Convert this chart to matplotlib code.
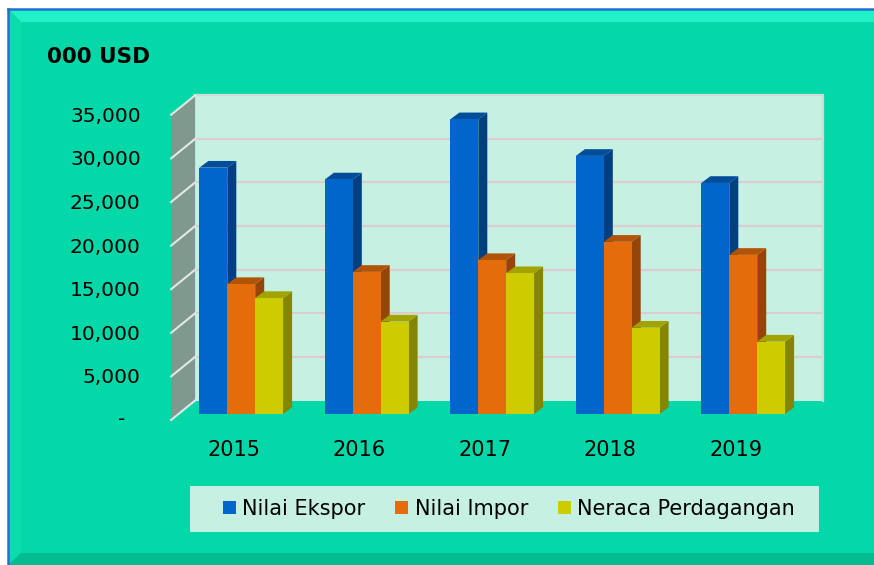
import numpy as np
import matplotlib.pyplot as plt
from matplotlib.patches import Polygon, Rectangle, Patch
from matplotlib.transforms import offset_copy

# Data (000 USD)
years = ["2015", "2016", "2017", "2018", "2019"]
series_names = ["Nilai Ekspor", "Nilai Impor", "Neraca Perdagangan"]
ekspor = [28250, 26900, 33800, 29600, 26500]
impor = [14900, 16300, 17650, 19750, 18250]
neraca = [13300, 10600, 16150, 9900, 8300]
y_ticks = [0, 5000, 10000, 15000, 20000, 25000, 30000, 35000]
y_tick_labels = ["-", "5,000", "10,000", "15,000", "20,000", "25,000", "30,000", "35,000"]
unit_label = "000 USD"

# Colours: front, side and top face of each series
front_colors = ["#0066CC", "#E46C0A", "#CCCC00"]
side_colors = ["#003F80", "#944507", "#858500"]
top_colors = ["#004D99", "#B25408", "#A3A300"]
bg_color = "#05D8A8"
wall_color = "#C6F0E2"
side_wall_color = "#7F998E"
grid_color = "#D9CDCD"

W, H = 874, 565
FS = 14.5

fig = plt.figure(figsize=(W / 100, H / 100), dpi=100, facecolor="white")


def fpx(x, y):
    # pixel position (top-left origin) -> figure fraction
    return x / W, 1 - y / H


# Chart area background with a simple bevel
def add_poly(points, color, z):
    fig.add_artist(Polygon([fpx(*p) for p in points], closed=True, transform=fig.transFigure,
                           facecolor=color, edgecolor="none", zorder=z))


add_poly([(8, 9), (W + 5, 9), (W + 5, H + 5), (8, H + 5)], bg_color, -10)
add_poly([(8, 9), (W + 5, 9), (W + 5, 22), (21, 22)], "#22F0C6", -9)
add_poly([(8, 9), (21, 22), (21, 553), (8, H)], "#0ADCAC", -9)
add_poly([(8, H), (21, 553), (W + 5, 553), (W + 5, H)], "#04BC90", -9)
fig.add_artist(plt.Line2D([8 / W, 8 / W], [0, 1 - 9 / H], color="#1F70D0", lw=1.8,
                          transform=fig.transFigure, zorder=-8))
fig.add_artist(plt.Line2D([8 / W, 1], [1 - 9 / H, 1 - 9 / H], color="#1F70D0", lw=1.8,
                          transform=fig.transFigure, zorder=-8))

# Axes in the plane of the bar fronts
ax_left, ax_right, ax_bottom, ax_top = 178.5, 806.0, 414.0, 108.8
ax = fig.add_axes([ax_left / W, 1 - ax_bottom / H, (ax_right - ax_left) / W, (ax_bottom - ax_top) / H])
ax.set_xlim(-0.5, len(years) - 0.5)
ax.set_ylim(0, 35000)
ax.axis("off")

sx = (ax_right - ax_left) / len(years)  # px per category
sy = (ax_bottom - ax_top) / 35000  # px per value


def shift(dx, dy):
    # pixel offset (down positive) -> data offset
    return dx / sx, -dy / sy


bdx, bdy = shift(16.6, -13.5)  # back wall plane
fdx, fdy = shift(-7.4, 6.0)  # front edge of floor / side wall
ddx, ddy = shift(9.0, -6.7)  # bar depth

x = np.arange(len(years))
xmin, xmax = -0.5, len(years) - 0.5
ymax = y_ticks[-1]

# Back wall
ax.fill([xmin + bdx, xmax + bdx, xmax + bdx, xmin + bdx],
        [bdy, bdy, ymax + bdy, ymax + bdy], color=wall_color, lw=0, zorder=0, clip_on=False)
for v in y_ticks[1:-1]:
    ax.plot([xmin + bdx, xmax + bdx], [v + bdy, v + bdy], color=grid_color, lw=1.6, zorder=0.5, clip_on=False)
ax.plot([xmin + bdx, xmax + bdx, xmax + bdx], [ymax + bdy, ymax + bdy, bdy],
        color="#D3DAD6", lw=1.6, zorder=0.5, clip_on=False)

# Side wall
ax.fill([xmin + fdx, xmin + fdx, xmin + bdx, xmin + bdx],
        [fdy, ymax + fdy, ymax + bdy, bdy], color=side_wall_color, lw=0, zorder=0.6, clip_on=False)
for v in y_ticks:
    ax.plot([xmin + fdx, xmin + bdx], [v + fdy, v + bdy], color="#E2E8E5", lw=1.5, zorder=0.7, clip_on=False)

# Bars
bw = 27.9 / sx
all_values = [ekspor, impor, neraca]
for j, vals in enumerate(all_values):
    xs = x + (j - 1) * bw
    for xc, v in zip(xs, vals):
        xl, xr = xc - bw / 2, xc + bw / 2
        ax.fill([xr, xr + ddx, xr + ddx, xr], [0, ddy, v + ddy, v],
                color=side_colors[j], lw=0, zorder=2 + 2 * j, clip_on=False)
        ax.fill([xl, xr, xr + ddx, xl + ddx], [v, v, v + ddy, v + ddy],
                color=top_colors[j], lw=0, zorder=2 + 2 * j, clip_on=False)
    ax.bar(xs, vals, width=bw, color=front_colors[j], lw=0, zorder=3 + 2 * j, clip_on=False)

# Value axis labels
lab_tr = offset_copy(ax.transData, fig=fig, x=-37.8, y=-1.5 - 6.0, units="dots")
for v, lab in zip(y_ticks, y_tick_labels):
    if lab == "-":
        tr0 = offset_copy(ax.transData, fig=fig, x=-56.5, y=-6.0, units="dots")
        ax.text(xmin, v, lab, transform=tr0, ha="center", va="center", fontsize=FS, color="black")
    else:
        ax.text(xmin, v, lab, transform=lab_tr, ha="right", va="center", fontsize=FS, color="black")

# Category labels
cat_tr = offset_copy(ax.transData, fig=fig, x=-7.5, y=-36, units="dots")
for xc, year in zip(x, years):
    ax.text(xc, 0, year, transform=cat_tr, ha="center", va="center", fontsize=15, color="black")

# Unit label
fig.text(*fpx(47, 57), unit_label, ha="left", va="center", fontsize=15.5, fontweight="bold", color="black")

# Legend
bx0, by0 = fpx(190, 532)
bx1, by1 = fpx(819, 486)
fig.add_artist(Rectangle((bx0, by0), bx1 - bx0, by1 - by0, transform=fig.transFigure,
                         facecolor=wall_color, edgecolor="none", zorder=-1))
handles = [Patch(facecolor=c, edgecolor="none", label=n) for c, n in zip(front_colors, series_names)]
fig.legend(handles=handles, loc="center", bbox_to_anchor=fpx(509, 509), ncol=3, frameon=False,
           fontsize=15, handlelength=0.62, handleheight=0.62, handletextpad=0.3, columnspacing=1.45,
           borderpad=0)

fig.savefig("out.png", dpi=100)
